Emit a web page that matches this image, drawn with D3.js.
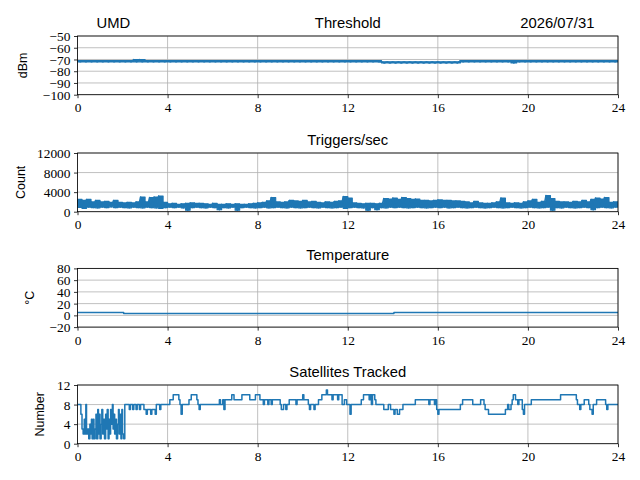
<!DOCTYPE html>
<html><head><meta charset="utf-8">
<script src="https://cdn.jsdelivr.net/npm/d3@7"></script>
<style>body{margin:0;background:#fff}svg{display:block}</style>
</head><body><div id="c"></div>
<script>
// ---------- DATA ----------
const hourTicks = [0,4,8,12,16,20,24];
const siteName = "UMD";
const dateLabel = "2026/07/31";
const panelTitles = ["Threshold","Triggers/sec","Temperature","Satellites Tracked"];
const yLabels = ["dBm","Count","\u00B0C","Number"];
const thrTicks = [-50,-60,-70,-80,-90,-100];
const trigTicks = [0,4000,8000,12000];
const tempTicks = [80,60,40,20,0,-20];
const satTicks = [0,4,8,12];

// Threshold: per 0.25 h bin, high and low value (dBm)
const thrHi = [-71,-71,-71,-71,-71,-71,-71,-71,-71,-71,-70,-70,-71,-71,-71,-71,-71,-71,-71,-71,-71,-71,-71,-71,
               -71,-71,-71,-71,-71,-71,-71,-71,-71,-71,-71,-71,-71,-71,-71,-71,-71,-71,-71,-71,-71,-71,-71,-71,
               -71,-71,-71,-71,-71,-71,-72,-72,-72,-72,-72,-72,-72,-72,-72,-72,-72,-72,-72,-72,-71,-71,-71,-71,
               -71,-71,-71,-71,-71,-71,-71,-71,-71,-71,-71,-71,-71,-71,-71,-71,-71,-71,-71,-71,-71,-71,-71,-71];
const thrLo = [-72,-72,-72,-72,-72,-72,-72,-72,-72,-72,-72,-72,-72,-72,-72,-72,-72,-72,-72,-72,-72,-72,-72,-72,
               -72,-72,-72,-72,-72,-72,-72,-72,-72,-72,-72,-72,-72,-72,-72,-72,-72,-72,-72,-72,-72,-72,-72,-72,
               -72,-72,-72,-72,-72,-72,-73,-73,-73,-73,-73,-73,-73,-73,-73,-73,-73,-73,-73,-73,-72,-72,-72,-72,
               -72,-72,-72,-72,-72,-73,-72,-72,-72,-72,-72,-72,-72,-72,-72,-72,-72,-72,-72,-72,-72,-72,-72,-72];

// Triggers/sec: per 0.2 h bin, high and low counts
const trigHi = [2500,2300,2500,2000,2300,2000,2100,1900,2300,1900,1800,1900,1800,2000,3000,2000,2900,3000,3200,1900,
                1600,1700,1500,1600,1700,1800,1700,1700,1600,1500,1700,1500,1500,1600,1500,1600,1500,1500,1600,1700,
                1800,1900,2200,2900,2000,1900,2000,2300,2200,2100,2300,2000,2100,1900,1800,2000,1900,2100,2200,3100,
                2800,1800,1700,1600,1700,1700,1600,1700,2700,2600,2800,2500,2900,2700,2500,2600,2300,2300,2200,2300,
                2400,2300,2300,2200,2200,2100,2000,1800,2100,1800,1700,1700,1800,2000,2800,1800,1700,1800,1700,2000,
                2200,2500,1900,2100,3300,2700,2100,2000,2000,1900,2100,2000,2300,2000,2500,2800,2600,2900,1900,2000];
const trigLo = [900,700,950,850,800,950,850,1000,850,950,850,800,950,850,800,950,850,800,700,850,
                950,850,950,800,300,850,950,850,800,950,850,400,850,800,950,300,850,950,850,800,
                850,950,800,850,950,850,800,950,850,800,850,950,850,800,950,850,800,850,950,700,
                850,950,850,800,300,850,400,850,800,950,850,950,850,800,850,950,850,800,850,950,
                850,950,800,850,950,850,800,850,950,850,800,850,950,850,800,850,950,850,800,850,
                950,850,800,850,950,300,850,800,950,850,800,850,950,850,400,850,950,850,800,950];

// Temperature: step breakpoints (hours, deg C)
const tempT = [0, 2.05, 14.05, 24];
const tempV = [5, 3, 5, 5];

// Satellites tracked: step breakpoints (hours, count)
const satT = [0,0.15,0.2,0.25,0.3,0.33,0.37,0.4,0.45,0.5,0.55,0.58,0.62,0.65,0.7,0.73,0.78,0.82,0.85,0.9,0.93,0.97,1.0,1.05,1.08,1.12,1.15,1.2,1.25,1.28,1.32,1.36,1.4,1.43,1.47,1.5,1.55,1.58,1.62,1.65,1.7,1.73,1.78,1.82,1.85,1.9,1.93,1.97,2.0,2.05,
  2.1,2.3,2.35,2.45,2.5,2.6,2.65,2.75,2.8,2.95,3.05,3.1,3.25,3.3,3.45,3.5,3.65,3.7,4.1,4.25,4.5,4.55,4.6,4.65,4.95,5.05,5.3,5.35,5.4,5.45,
  6.3,6.35,6.45,6.5,6.55,6.85,6.95,7.3,7.65,7.9,8.1,8.25,8.3,8.45,8.5,8.6,8.65,9.0,9.05,9.15,9.25,9.3,9.4,9.7,9.75,10.0,10.05,10.25,10.3,10.35,10.5,10.55,
  10.7,10.85,11.05,11.1,11.3,11.35,11.55,11.6,11.75,11.85,11.95,12.1,12.15,12.6,12.7,12.95,13.0,13.05,13.1,13.2,13.25,13.6,13.8,13.9,14.05,14.1,14.2,14.3,14.45,
  15.0,15.6,15.65,15.85,15.9,15.95,16.0,16.05,17.0,17.1,17.55,17.9,18.05,18.1,18.25,19.0,19.1,19.15,19.25,19.3,19.35,19.45,19.55,19.6,19.75,19.8,19.85,
  20.15,21.45,22.15,22.2,22.3,22.35,22.5,22.7,22.75,22.85,22.9,23.05,23.45,23.5,23.55,24];
const satV = [8,6,3,2,5,2,8,2,3,1,4,2,5,1,5,1,3,6,1,7,2,6,1,4,7,2,5,1,6,3,7,1,5,2,7,4,8,3,6,2,5,1,4,7,2,6,1,7,2,1,
  8,7,8,7,8,7,8,7,8,7,6,7,6,7,6,8,7,8,9,10,9,8,6,8,9,10,9,8,7,8,
  9,8,9,7,9,10,9,10,9,10,9,8,9,8,9,8,9,8,7,8,7,8,9,8,9,10,9,8,7,8,7,8,
  9,10,11,10,9,10,9,10,8,9,8,6,8,9,10,9,10,8,10,9,8,7,8,7,6,7,6,7,8,
  9,8,9,8,9,7,6,7,8,9,8,9,8,7,6,7,8,7,8,9,10,9,8,9,7,6,8,
  9,10,9,8,7,8,9,8,7,6,8,9,8,7,8,8];

// ---------- LAYOUT ----------
const W = 640, H = 480;
const left = 77.5, right = 618;
const tops = [36, 153, 268.4, 385];
const ph = 58.7;
const blue = "#1f77b4", grid = "#b0b0b0";
const serif = "'Liberation Serif','Times New Roman',serif";
const sans = "'Liberation Sans',Arial,sans-serif";

const svg = d3.select("#c").append("svg").attr("width", W).attr("height", H);
const x = d3.scaleLinear().domain([0, 24]).range([left, right]);
const fmt = d3.format("");

// band records: [t, hi, lo]
function bins(hi, lo, dt) {
  const r = hi.map((h, i) => [i * dt, h, lo[i]]);
  r.push([24, hi[hi.length - 1], lo[lo.length - 1]]);
  return r;
}
function zig(hi, lo, dt) {
  const pts = [];
  hi.forEach((h, i) => { pts.push([i * dt, h]); pts.push([i * dt + dt / 2, lo[i]]); });
  pts.push([24, hi[hi.length - 1]]);
  return pts;
}

const panels = [
  {dom: [-100, -50], ticks: thrTicks, ylx: 22.5, band: bins(thrHi, thrLo, 0.25), data: zig(thrHi, thrLo, 0.25), curve: d3.curveLinear},
  {dom: [0, 12000], ticks: trigTicks, ylx: 21, band: bins(trigHi, trigLo, 0.2), data: zig(trigHi, trigLo, 0.2), curve: d3.curveLinear},
  {dom: [-20, 80], ticks: tempTicks, ylx: 30, data: tempT.map((t, i) => [t, tempV[i]]), curve: d3.curveStepAfter},
  {dom: [0, 12], ticks: satTicks, ylx: 40, data: satT.map((t, i) => [t, satV[i]]), curve: d3.curveStepAfter}
];

panels.forEach((p, k) => {
  const top = tops[k], bot = top + ph;
  const y = d3.scaleLinear().domain(p.dom).range([bot, top]);
  const g = svg.append("g");
  svg.append("clipPath").attr("id", "clip" + k).append("rect")
    .attr("x", left).attr("y", top).attr("width", right - left).attr("height", ph);
  // grid
  g.append("g").selectAll("line").data(hourTicks).join("line")
    .attr("x1", d => x(d)).attr("x2", d => x(d)).attr("y1", top).attr("y2", bot)
    .attr("stroke", grid).attr("stroke-width", 0.8);
  g.append("g").selectAll("line").data(p.ticks).join("line")
    .attr("x1", left).attr("x2", right).attr("y1", d => y(d)).attr("y2", d => y(d))
    .attr("stroke", grid).attr("stroke-width", 0.8);
  // dense band (min..max per bin) for noisy series
  if (p.band) {
    const area = d3.area().x(d => x(d[0])).y0(d => y(d[2])).y1(d => y(d[1])).curve(d3.curveStepAfter);
    g.append("path").datum(p.band).attr("d", area).attr("fill", blue)
      .attr("stroke", blue).attr("stroke-width", 1.2).attr("stroke-linejoin", "round")
      .attr("clip-path", "url(#clip" + k + ")");
  }
  // line
  const line = d3.line().x(d => x(d[0])).y(d => y(d[1])).curve(p.curve);
  g.append("path").datum(p.data).attr("d", line).attr("fill", "none")
    .attr("stroke", blue).attr("stroke-width", 1.5).attr("stroke-linejoin", "round")
    .attr("clip-path", "url(#clip" + k + ")");
  // frame
  g.append("rect").attr("x", left).attr("y", top).attr("width", right - left).attr("height", ph)
    .attr("fill", "none").attr("stroke", "#000").attr("stroke-width", 0.8);
  // axes
  const ax = g.append("g").attr("transform", `translate(0,${bot})`)
    .call(d3.axisBottom(x).tickValues(hourTicks).tickFormat(fmt).tickSize(3.5).tickPadding(3.5));
  const ay = g.append("g").attr("transform", `translate(${left},0)`)
    .call(d3.axisLeft(y).tickValues(p.ticks).tickFormat(d3.format("")).tickSize(3.5).tickPadding(3.5));
  [ax, ay].forEach(a => {
    a.select(".domain").remove();
    a.selectAll(".tick line").attr("stroke", "#000").attr("stroke-width", 0.8);
    a.selectAll(".tick text").attr("fill", "#000").style("font-family", serif).style("font-size", "13.4px");
  });
  ax.selectAll(".tick text").attr("dy", "0.78em");
  ay.selectAll(".tick text").attr("dy", "0.34em");
  // y label
  svg.append("text").attr("transform", `translate(${p.ylx},${(top + bot) / 2}) rotate(-90)`)
    .attr("text-anchor", "middle").attr("dominant-baseline", "central")
    .style("font-family", sans).style("font-size", "12.5px").text(yLabels[k]);
  // title
  svg.append("text").attr("x", (left + right) / 2).attr("y", top - 8.3)
    .attr("text-anchor", "middle").style("font-family", sans).style("font-size", "14.8px")
    .text(panelTitles[k]);
});
// header extras on first title line
svg.append("text").attr("x", 96.6).attr("y", tops[0] - 8.3).attr("text-anchor", "start")
  .style("font-family", sans).style("font-size", "14.8px").text(siteName);
svg.append("text").attr("x", 594.4).attr("y", tops[0] - 8.3).attr("text-anchor", "end")
  .style("font-family", sans).style("font-size", "14.8px").text(dateLabel);
</script></body></html>
